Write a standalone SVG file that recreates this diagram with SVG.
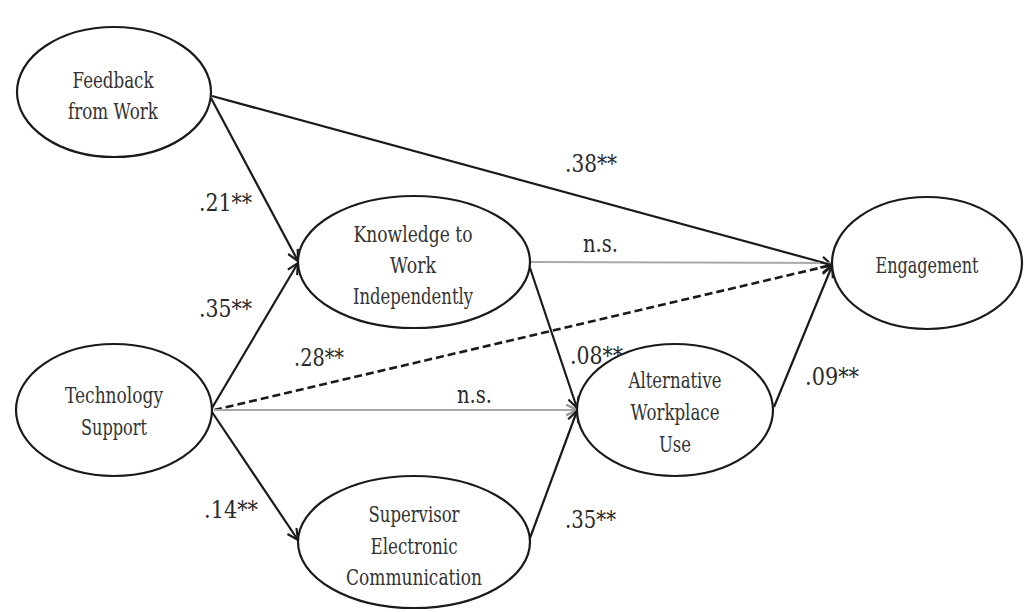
<svg xmlns="http://www.w3.org/2000/svg" width="1033" height="612" viewBox="0 0 1033 612">
  <defs>
    <style>
      .node ellipse { fill: #ffffff; stroke: #1a1a1a; stroke-width: 2.2; }
      .node text { font-size: 22px; fill: #333333; text-anchor: middle; }
      .lbl { font-size: 24px; fill: #2a2a2a; }
      .solid { stroke: #1a1a1a; stroke-width: 2.2; fill: none; }
      .gray { stroke: #a8a8a8; stroke-width: 1.8; fill: none; }
      .dash { stroke: #1a1a1a; stroke-width: 2.6; fill: none; stroke-dasharray: 8 4; }
    </style>
    <marker id="ah" viewBox="0 0 12 12" refX="11" refY="6" markerWidth="13" markerHeight="13" markerUnits="userSpaceOnUse" orient="auto">
      <path d="M1,1 L11,6 L1,11" fill="none" stroke="#1a1a1a" stroke-width="2"/>
    </marker>
    <marker id="ahg" viewBox="0 0 12 12" refX="11" refY="6" markerWidth="13" markerHeight="13" markerUnits="userSpaceOnUse" orient="auto">
      <path d="M1,1 L11,6 L1,11" fill="none" stroke="#999999" stroke-width="2.2"/>
    </marker>
  </defs>
  <rect width="1033" height="612" fill="#ffffff"/>

  <g id="connectors">
    <line class="solid" x1="212" y1="96" x2="832" y2="265" marker-end="url(#ah)"/>
    <line class="solid" x1="211" y1="98" x2="298" y2="261" marker-end="url(#ah)"/>
    <line class="solid" x1="212" y1="408" x2="298" y2="263" marker-end="url(#ah)"/>
    <line class="gray" x1="530" y1="262" x2="832" y2="263"/>
    <line class="dash" x1="214" y1="410" x2="832" y2="265" marker-end="url(#ah)"/>
    <line class="gray" x1="214" y1="410" x2="577" y2="410" marker-end="url(#ahg)"/>
    <line class="solid" x1="528" y1="262" x2="577" y2="408" marker-end="url(#ah)"/>
    <line class="solid" x1="212" y1="412" x2="298" y2="540" marker-end="url(#ah)"/>
    <line class="solid" x1="530" y1="538" x2="577" y2="411" marker-end="url(#ah)"/>
    <line class="solid" x1="774" y1="407" x2="832" y2="266" marker-end="url(#ah)"/>
  </g>

  <g id="labels" font-family="'DejaVu Serif', 'Liberation Serif', serif">
    <text class="lbl" x="565" y="172" textLength="52" lengthAdjust="spacingAndGlyphs">.38**</text>
    <text class="lbl" x="199" y="211" textLength="53" lengthAdjust="spacingAndGlyphs">.21**</text>
    <text class="lbl" x="199" y="317" textLength="53" lengthAdjust="spacingAndGlyphs">.35**</text>
    <text class="lbl" x="583" y="252" textLength="35" lengthAdjust="spacingAndGlyphs">n.s.</text>
    <text class="lbl" x="294" y="366" textLength="50" lengthAdjust="spacingAndGlyphs">.28**</text>
    <text class="lbl" x="457" y="403" textLength="35" lengthAdjust="spacingAndGlyphs">n.s.</text>
    <text class="lbl" x="570" y="364" textLength="53" lengthAdjust="spacingAndGlyphs">.08**</text>
    <text class="lbl" x="805" y="385" textLength="54" lengthAdjust="spacingAndGlyphs">.09**</text>
    <text class="lbl" x="204" y="518" textLength="54" lengthAdjust="spacingAndGlyphs">.14**</text>
    <text class="lbl" x="565" y="528" textLength="51" lengthAdjust="spacingAndGlyphs">.35**</text>
  </g>

  <g font-family="'DejaVu Serif', 'Liberation Serif', serif">
  <g id="feedback" class="node">
    <ellipse cx="114" cy="92" rx="97" ry="65"/>
    <text x="113" y="88" textLength="81" lengthAdjust="spacingAndGlyphs">Feedback</text>
    <text x="113" y="119" textLength="90" lengthAdjust="spacingAndGlyphs">from Work</text>
  </g>
  <g id="knowledge" class="node">
    <ellipse cx="414" cy="262" rx="116" ry="66"/>
    <text x="413" y="242" textLength="119" lengthAdjust="spacingAndGlyphs">Knowledge to</text>
    <text x="413" y="273" textLength="46" lengthAdjust="spacingAndGlyphs">Work</text>
    <text x="413" y="304" textLength="120" lengthAdjust="spacingAndGlyphs">Independently</text>
  </g>
  <g id="engagement" class="node">
    <ellipse cx="927" cy="263" rx="95" ry="66"/>
    <text x="927" y="273" textLength="103" lengthAdjust="spacingAndGlyphs">Engagement</text>
  </g>
  <g id="technology" class="node">
    <ellipse cx="114" cy="410" rx="98" ry="66"/>
    <text x="114" y="403" textLength="98" lengthAdjust="spacingAndGlyphs">Technology</text>
    <text x="114" y="435" textLength="66" lengthAdjust="spacingAndGlyphs">Support</text>
  </g>
  <g id="alternative" class="node">
    <ellipse cx="675" cy="410" rx="98" ry="66"/>
    <text x="675" y="388" textLength="93" lengthAdjust="spacingAndGlyphs">Alternative</text>
    <text x="675" y="420" textLength="89" lengthAdjust="spacingAndGlyphs">Workplace</text>
    <text x="675" y="452" textLength="32" lengthAdjust="spacingAndGlyphs">Use</text>
  </g>
  <g id="supervisor" class="node">
    <ellipse cx="414" cy="542" rx="116" ry="66"/>
    <text x="414" y="522" textLength="91" lengthAdjust="spacingAndGlyphs">Supervisor</text>
    <text x="414" y="554" textLength="87" lengthAdjust="spacingAndGlyphs">Electronic</text>
    <text x="414" y="585" textLength="136" lengthAdjust="spacingAndGlyphs">Communication</text>
  </g>
  </g>
</svg>
